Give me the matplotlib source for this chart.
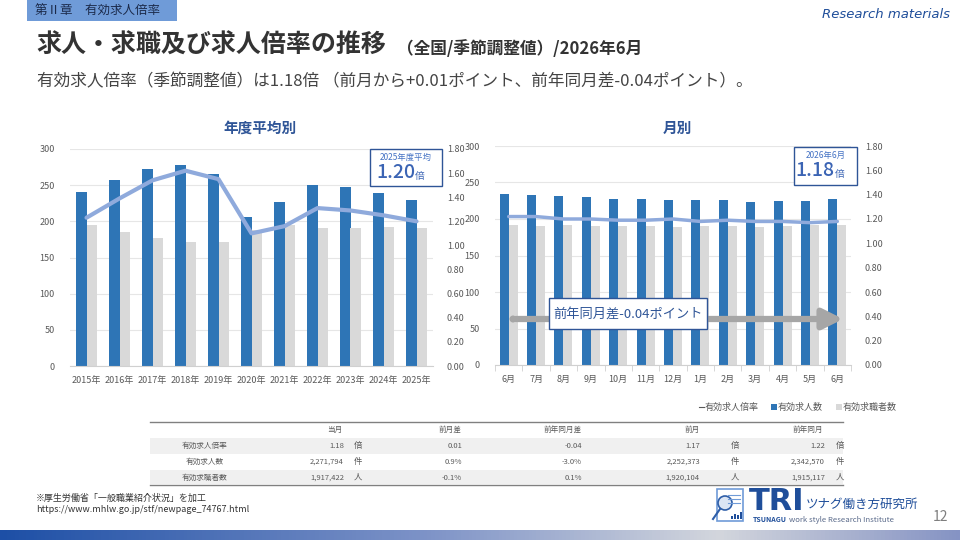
import numpy as np
import matplotlib
matplotlib.use('Agg')
import matplotlib.pyplot as plt
from matplotlib.patches import Rectangle, Circle, FancyArrowPatch
from matplotlib.colors import LinearSegmentedColormap

JP = ['Noto Sans CJK JP', 'DejaVu Sans']
plt.rcParams['font.family'] = JP

# ── data ─────────────────────────────────────────────────────────────────────
years = ['2015年', '2016年', '2017年', '2018年', '2019年', '2020年',
         '2021年', '2022年', '2023年', '2024年', '2025年']
year_openings = [240.9, 257.5, 272.8, 278.3, 265.8, 206.3, 227.1, 250.6, 247.8, 239.5, 229.8]
year_seekers = [195.2, 184.6, 177.2, 171.7, 171.7, 188.3, 195.2, 191.1, 191.1, 192.5, 191.1]
year_ratio = [1.23, 1.39, 1.54, 1.62, 1.55, 1.10, 1.16, 1.31, 1.29, 1.25, 1.20]

months = ['6月', '7月', '8月', '9月', '10月', '11月', '12月',
          '1月', '2月', '3月', '4月', '5月', '6月']
month_openings = [234.3, 232.9, 231.5, 230.1, 227.4, 227.4, 226.0,
                  226.0, 226.0, 223.3, 224.7, 225.2, 227.2]
month_seekers = [191.5, 190.4, 191.8, 190.4, 190.4, 190.4, 189.0,
                 190.4, 190.4, 189.0, 190.4, 192.0, 191.7]
month_ratio = [1.22, 1.22, 1.20, 1.20, 1.19, 1.19, 1.20, 1.18, 1.19, 1.18, 1.18, 1.17, 1.18]

tbl_cols = ['当月', '前月差', '前年同月差', '前月', '前年同月']
tbl_rows = ['有効求人倍率', '有効求人数', '有効求職者数']
tbl_units = ['倍', '件', '人']
tbl_cur = ['1.18', '2,271,794', '1,917,422']
tbl_mom = ['0.01', '0.9%', '-0.1%']
tbl_yoy = ['-0.04', '-3.0%', '0.1%']
tbl_prev = ['1.17', '2,252,373', '1,920,104']
tbl_lastyr = ['1.22', '2,342,570', '1,915,117']

# ── palette ──────────────────────────────────────────────────────────────────
BLUE = '#2e75b6'
GRAYBAR = '#d9d9d9'
LINE = '#8faadc'
NAVY = '#2f5597'
TXT = '#595959'

W, H = 960, 540
fig = plt.figure(figsize=(W / 100, H / 100), dpi=100)
fig.patch.set_facecolor('white')


def px_axes(x0, y0, x1, y1):
    """axes from pixel box (top-left origin)"""
    return fig.add_axes([x0 / W, 1 - y1 / H, (x1 - x0) / W, (y1 - y0) / H])


def bar_chart(ax, cats, opens, seeks, ratio, bw, lw, ticks_between):
    x = np.arange(len(cats))
    ax.bar(x - bw / 2, opens, bw, color=BLUE, zorder=2)
    ax.bar(x + bw / 2, seeks, bw, color=GRAYBAR, zorder=2)
    ax.set_ylim(0, 300)
    ax.set_yticks(range(0, 301, 50))
    ax.set_xlim(-0.5, len(cats) - 0.5)
    ax.set_xticks(x)
    ax.set_xticklabels(cats)
    ax.grid(axis='y', color='#e6e6e6', lw=0.8, zorder=0)
    for s in ['top', 'right', 'left']:
        ax.spines[s].set_visible(False)
    ax.spines['bottom'].set_color('#d0d0d0')
    ax.tick_params(axis='y', length=0, pad=11, labelsize=6.5, labelcolor=TXT)
    ax.tick_params(axis='x', length=0, pad=7, labelsize=6.5, labelcolor=TXT)
    if ticks_between:
        ax.set_xticks(np.arange(-0.5, len(cats), 1), minor=True)
        ax.tick_params(axis='x', which='minor', length=4, color='#d0d0d0')
    ax2 = ax.twinx()
    ax2.plot(x, ratio, color=LINE, lw=lw, zorder=3, solid_capstyle='round')
    ax2.set_ylim(0, 1.8)
    ax2.set_yticks(np.arange(0, 1.81, 0.2))
    ax2.set_yticklabels([f'{v:.2f}' for v in np.arange(0, 1.81, 0.2)])
    for s in ax2.spines.values():
        s.set_visible(False)
    ax2.tick_params(axis='y', length=0, pad=10, labelsize=6.5, labelcolor=TXT)


axL = px_axes(70, 149, 433, 366)
bar_chart(axL, years, year_openings, year_seekers, year_ratio, 0.33, 3.0, False)
axR = px_axes(495, 146, 851, 365)
bar_chart(axR, months, month_openings, month_seekers, month_ratio, 0.33, 2.5, True)

# ── overlay in pixel coordinates ─────────────────────────────────────────────
ov = fig.add_axes([0, 0, 1, 1])
ov.set_facecolor('none')
ov.axis('off')

# bottom gradient band
cmap = LinearSegmentedColormap.from_list(
    'band', [(0, '#1d4fa6'), (0.45, '#7f94c8'), (0.75, '#d3d6dd'), (1, '#8593c4')])
ov.imshow(np.linspace(0, 1, 256)[None, :], cmap=cmap, aspect='auto',
          extent=[0, W, 540, 530], zorder=0)
ov.set_xlim(0, W)
ov.set_ylim(H, 0)

# header
ov.add_patch(Rectangle((27, 0), 150, 21, fc='#6f9bd8', ec='none'))
ov.text(35, 11, '第Ⅱ章　有効求人倍率', fontsize=9, color='#1b2a4a', va='center')
ov.text(950, 15, 'Research materials', fontsize=9.5, color='#1f4e9a',
        style='italic', ha='right', va='center', family='DejaVu Sans')
ov.text(36, 46, '求人・求職及び求人倍率の推移', fontsize=18, fontweight='bold',
        color='#333333', va='center')
ov.text(397, 49, '（全国/季節調整値）/2026年6月', fontsize=12, fontweight='bold',
        color='#333333', va='center')
ov.text(37, 82, '有効求人倍率（季節調整値）は1.18倍 （前月から+0.01ポイント、前年同月差-0.04ポイント）。',
        fontsize=12, color='#444444', va='center')

# chart titles
ov.text(260, 128, '年度平均別', fontsize=10.5, fontweight='bold', color=NAVY,
        ha='center', va='center')
ov.text(677, 128, '月別', fontsize=10.5, fontweight='bold', color=NAVY,
        ha='center', va='center')


def callout(x0, y0, x1, y1, top, big):
    ov.add_patch(Rectangle((x0, y0), x1 - x0, y1 - y0, fc='white', ec=NAVY, lw=1, zorder=5))
    cx = (x0 + x1) / 2
    ov.text(cx, y0 + 8, top, fontsize=6, color='#4472c4', ha='center', va='center', zorder=6)
    ov.text(cx + 9, y0 + 24, big, fontsize=14, color='#3b64b4', ha='right', va='center',
            fontweight='medium', zorder=6)
    ov.text(cx + 9, y0 + 27, '倍', fontsize=7, color='#3b64b4', ha='left', va='center', zorder=6)


callout(370, 149, 442, 186, '2025年度平均', '1.20')
callout(794, 147, 857, 185, '2026年6月', '1.18')

# year-on-year arrow
ov.add_patch(FancyArrowPatch((513, 319), (846, 319), arrowstyle='-|>,head_length=8,head_width=4',
                             color='#a6a6a6', lw=4.5, mutation_scale=1.5, zorder=4))
ov.add_patch(Circle((513, 319), 3.5, fc='#a6a6a6', ec='none', zorder=4))
ov.add_patch(Rectangle((549, 298), 158, 31, fc='white', ec=NAVY, lw=1, zorder=5))
ov.text(628, 314, '前年同月差-0.04ポイント', fontsize=9.5, color=NAVY,
        ha='center', va='center', zorder=6)

# legend
ov.plot([699, 704], [407, 407], color=TXT, lw=0.8)
ov.text(705, 407, '有効求人倍率', fontsize=6.5, color=TXT, va='center')
ov.add_patch(Rectangle((771, 403.5), 6, 6, fc=BLUE, ec='none'))
ov.text(778, 407, '有効求人数', fontsize=6.5, color=TXT, va='center')
ov.add_patch(Rectangle((836, 403.5), 6, 6, fc=GRAYBAR, ec='none'))
ov.text(843, 407, '有効求職者数', fontsize=6.5, color=TXT, va='center')

# table
ov.add_patch(Rectangle((150, 437.5), 693, 16.5, fc='#f0f0f0', ec='none'))
ov.add_patch(Rectangle((150, 469.5), 693, 14.5, fc='#f0f0f0', ec='none'))
ov.plot([150, 843], [421.5, 421.5], color='#808080', lw=1)
ov.plot([150, 843], [484.5, 484.5], color='#808080', lw=1)
head_x = [335, 450, 563, 692, 808]
val_x = [344, 462, 582, 700, 825]
unit_x = [358, None, None, 735, 840]
cols = [tbl_cur, tbl_mom, tbl_yoy, tbl_prev, tbl_lastyr]
fs_t = 5.5
for hx, name in zip(head_x, tbl_cols):
    ov.text(hx, 430, name, fontsize=fs_t, color=TXT, ha='center', va='center')
for r, (label, unit) in enumerate(zip(tbl_rows, tbl_units)):
    ry = [445.5, 461.5, 477.5][r]
    ov.text(205, ry, label, fontsize=fs_t, color=TXT, ha='center', va='center')
    for c, col in enumerate(cols):
        ov.text(val_x[c], ry, col[r], fontsize=fs_t, color=TXT, ha='right', va='center')
        if unit_x[c] is not None:
            ov.text(unit_x[c], ry, unit, fontsize=fs_t + 0.5, color=TXT, ha='center', va='center')

# footer
ov.text(36, 498, '※厚生労働省「一般職業紹介状況」を加工', fontsize=6.5, color='#333333', va='center')
ov.text(36, 510, 'https://www.mhlw.go.jp/stf/newpage_74767.html', fontsize=6.5,
        color='#333333', va='center')

# logo
ov.add_patch(Rectangle((717, 489), 26, 32, fc='white', ec='#6f9bd8', lw=1.2))
for yy in (495, 499, 503):
    ov.plot([728, 740], [yy, yy], color='#6f9bd8', lw=0.8)
ov.add_patch(Circle((725, 503), 7, fc='#dce6f4', ec='#2e5ea8', lw=1.2))
ov.plot([720, 713], [509, 519], color='#2e5ea8', lw=1.5)
for i, hh in enumerate([3, 5, 4, 7]):
    ov.add_patch(Rectangle((731 + i * 3, 519 - hh), 2, hh, fc='#1f4e9a', ec='none'))
ov.text(749, 501, 'TRI', fontsize=22, fontweight='bold', color='#1f4e9a',
        va='center', family='DejaVu Sans')
ov.text(806, 504, 'ツナグ働き方研究所', fontsize=9, color='#1f4e9a', va='center')
ov.text(753, 519.5, 'TSUNAGU', fontsize=5, fontweight='bold', color='#1f4e9a', va='center')
ov.text(789, 519.5, 'work style Research Institute', fontsize=5.6, color='#5a6a8a',
        va='center')
ov.text(941, 517, '12', fontsize=10, color='#7f7f7f', ha='center', va='center')

fig.savefig('out.png', dpi=100)
